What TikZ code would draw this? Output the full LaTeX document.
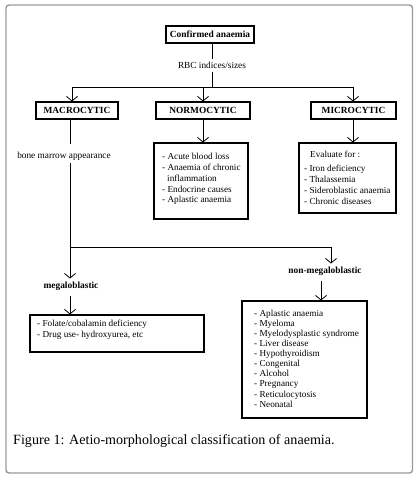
\documentclass[tikz,border=0pt]{standalone}
\usepackage{fontspec}
\setmainfont{Liberation Serif}
\usetikzlibrary{arrows.meta}
\begin{document}
\begin{tikzpicture}[x=1pt,y=-1pt,
  box/.style={draw, line width=1.1pt, inner sep=0pt},
  head/.style={font=\fontsize{9.4}{10}\selectfont\bfseries},
  plain/.style={font=\fontsize{9.3}{10}\selectfont},
  lst/.style={anchor=west, align=left, inner sep=0pt, font=\fontsize{9.2}{10.8}\selectfont},
  conn/.style={line width=0.8pt},
  arr/.style={conn, -{Straight Barb[length=4.5pt,width=11pt,line width=0.8pt]}}]
\useasboundingbox (0,0) rectangle (416,483);
\draw[rounded corners=3pt, line width=1.4pt, gray!80] (6,5) rectangle (412.5,473);

% top
\node[box, head, minimum width=88pt, minimum height=17pt] (conf) at (210,34.5) {Confirmed anaemia};
\node[inner sep=0pt, plain] (rbc) at (212,65.5) {RBC indices/sizes};
\coordinate (jtop) at (212,87);
\coordinate (jl) at (72,87);
\coordinate (jr) at (353,87);
\coordinate (jm) at (203,87);

\node[box, head, minimum width=82pt, minimum height=17pt] (macro) at (77,110.5) {MACROCYTIC};
\node[box, head, minimum width=94pt, minimum height=17pt] (normo) at (203,110.5) {NORMOCYTIC};
\node[box, head, minimum width=85pt, minimum height=17pt] (micro) at (353.5,110.5) {MICROCYTIC};

\draw[conn] (conf.south -| jtop) -- ([yshift=3pt]rbc.north -| jtop);
\draw[conn] ([yshift=-3pt]rbc.south -| jtop) -- (jtop);
\draw[conn] (jl) -- (jr);
\draw[arr] (jl) -- (macro.north -| jl);
\draw[arr] (jm) -- (normo.north);
\draw[arr] (jr) -- (micro.north -| jr);

% normocytic list
\node[box, minimum width=94pt, minimum height=76pt] (nlist) at (201,181) {};
\node[lst] (ntext) at (162,179) {- Acute blood loss\\- Anaemia of chronic\\\hspace*{5pt}inflammation\\- Endocrine causes\\- Aplastic anaemia};
\draw[arr] (normo.south) -- (nlist.north -| normo.south);

% microcytic list
\node[box, minimum width=97pt, minimum height=70pt] (mlist) at (347.5,178) {};
\node[lst] (mtext) at (304,177.5) {\hspace*{6pt}Evaluate for :\\[4pt]- Iron deficiency\\- Thalassemia\\- Sideroblastic anaemia\\- Chronic diseases};
\draw[arr] (micro.south -| jr) -- (mlist.north -| jr);

% bone marrow
\coordinate (bx) at (70,0);
\node[inner sep=0pt, plain] (bma) at (64,156) {bone marrow appearance};
\coordinate (jb) at (70,247);
\coordinate (jbr) at (331,247);
\draw[conn] (macro.south -| bx) -- ([yshift=8pt]bma.north -| bx);
\draw[conn] ([yshift=-3pt]bma.south -| bx) -- (jb) -- (jbr);

\node[head, inner sep=0pt] (mega) at (71,286) {megaloblastic};
\node[head, inner sep=0pt] (nonmega) at (325,271) {non-megaloblastic};
\draw[arr] (jb) -- ([yshift=3pt]mega.north -| jb);
\draw[arr] (jbr) -- ([yshift=3pt]nonmega.north -| jbr);

% megaloblastic list
\node[box, minimum width=174pt, minimum height=37pt] (flist) at (117,333.5) {};
\node[lst] (ftext) at (37,329.5) {- Folate/cobalamin deficiency\\- Drug use- hydroxyurea, etc};
\draw[arr] ([yshift=-5pt]mega.south -| jb) -- (flist.north -| jb);

% non-megaloblastic list
\node[box, minimum width=125pt, minimum height=117pt] (nmlist) at (304.5,359.5) {};
\node[lst, font=\fontsize{9.2}{10.1}\selectfont] (nmtext) at (254,358.5) {- Aplastic anaemia\\- Myeloma\\- Myelodysplastic syndrome\\- Liver disease\\- Hypothyroidism\\- Congenital\\- Alcohol\\- Pregnancy\\- Reticulocytosis\\- Neonatal};
\draw[arr] ([yshift=-5pt]nonmega.south -| 321,0) -- (nmlist.north -| 321,0);

% caption
\node[anchor=west, inner sep=0pt, font=\fontsize{14.1}{16}\selectfont] (cap) at (13,441) {Figure 1: Aetio-morphological classification of anaemia.};
\end{tikzpicture}
\end{document}
